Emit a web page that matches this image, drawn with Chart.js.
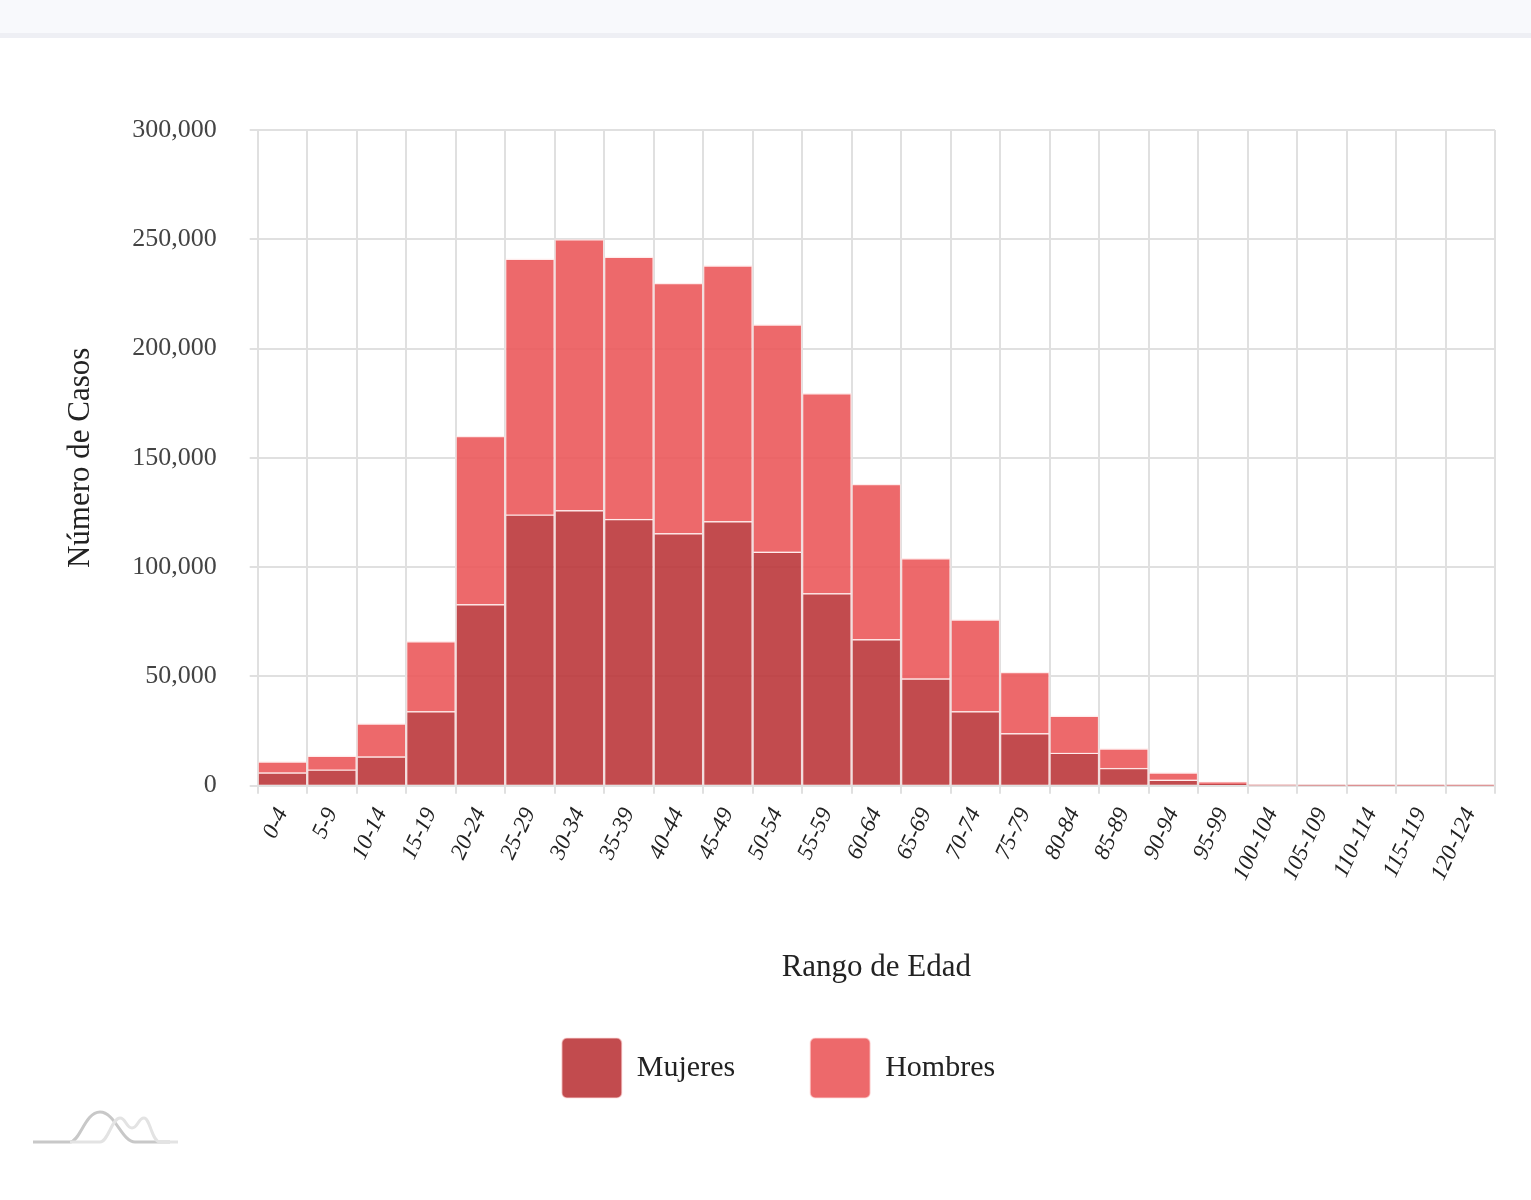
<!DOCTYPE html>
<html>
<head>
<meta charset="utf-8">
<script src="https://cdn.jsdelivr.net/npm/chart.js@4.4.1/dist/chart.umd.min.js"></script>
<style>
  body { margin: 0; background: #fff; width: 1531px; height: 1200px; overflow: hidden; position: relative; }
  #cabecera { position: absolute; left: 0; top: 0; width: 1531px; height: 33px; background: #f8f9fc; border-bottom: 5px solid #eeeff4; }
  #contenedor { position: absolute; left: 0; top: 38px; width: 1531px; height: 1140px; }
  #logo { position: absolute; left: 30px; top: 1100px; }
</style>
</head>
<body>
<div id="cabecera"></div>
<div id="contenedor"><canvas id="grafica"></canvas></div>
<svg id="logo" width="160" height="50" viewBox="0 0 160 50">
  <path d="M3 42 H40 C50 42 55 12 70 12 C85 12 92 42 105 42 H140" fill="none" stroke="#c8c8c8" stroke-width="3"/>
  <path d="M40 42 H70 C78 42 82 18 90 18 C96 18 96 28 102 28 C108 28 108 18 114 18 C120 18 122 42 130 42 H148" fill="none" stroke="#e3e3e3" stroke-width="3"/>
</svg>
<script>
document.addEventListener("DOMContentLoaded", function () {
    const rangos = ['0-4', '5-9', '10-14', '15-19', '20-24', '25-29', '30-34', '35-39', '40-44', '45-49',
        '50-54', '55-59', '60-64', '65-69', '70-74', '75-79', '80-84', '85-89', '90-94', '95-99',
        '100-104', '105-109', '110-114', '115-119', '120-124'];
    // valores (barras apiladas: mujeres abajo, hombres arriba)
    const mujeres = [6000, 7300, 13300, 34000, 83000, 124000, 126000, 122000, 115500, 121000,
        107000, 88000, 67000, 49000, 34000, 24000, 15000, 8000, 2700, 800,
        150, 40, 20, 10, 10];
    const hombres = [5000, 6400, 15100, 32000, 77000, 117000, 124000, 120000, 114500, 117000,
        104000, 91500, 71000, 55000, 42000, 28000, 17000, 9000, 3300, 1000,
        150, 40, 20, 10, 10];
    const ticksY = [0, 50000, 100000, 150000, 200000, 250000, 300000];

    const fuente = "'Liberation Serif', 'DejaVu Serif', serif";
    const ctx = document.getElementById('grafica').getContext('2d');

    new Chart(ctx, {
        type: 'bar',
        data: {
            labels: rangos,
            datasets: [{
                label: 'Mujeres',
                data: mujeres,
                backgroundColor: 'rgba(186, 50, 54, 0.88)',
                borderColor: 'rgba(255, 220, 220, 0.55)',
                borderWidth: 1.5,
                barPercentage: 1,
                categoryPercentage: 1
            },
            {
                label: 'Hombres',
                data: hombres,
                backgroundColor: 'rgba(234, 84, 87, 0.88)',
                borderColor: 'rgba(255, 220, 220, 0.55)',
                borderWidth: 1.5,
                barPercentage: 1,
                categoryPercentage: 1
            }]
        },
        options: {
            responsive: true,
            maintainAspectRatio: false,
            animation: false,
            layout: { padding: { left: 62, right: 36, top: 92, bottom: 70 } },
            plugins: {
                legend: {
                    position: 'bottom',
                    labels: {
                        boxWidth: 60,
                        boxHeight: 60,
                        useBorderRadius: true,
                        borderRadius: 5,
                        padding: 75,
                        color: '#222',
                        font: { family: fuente, size: 30 }
                    }
                },
                tooltip: { enabled: false }
            },
            scales: {
                x: {
                    stacked: true,
                    grid: { color: '#e0e0e0', lineWidth: 2 },
                    border: { color: '#e0e0e0', width: 2 },
                    ticks: {
                        minRotation: 65,
                        maxRotation: 65,
                        padding: 10,
                        color: '#222',
                        font: { family: fuente, size: 23, style: 'italic' }
                    },
                    title: {
                        display: true,
                        text: 'Rango de Edad',
                        color: '#222',
                        padding: { top: 54, bottom: -23 },
                        font: { family: fuente, size: 31 }
                    }
                },
                y: {
                    stacked: true,
                    min: 0,
                    max: 300000,
                    afterBuildTicks: function (escala) {
                        escala.ticks = ticksY.map(function (v) { return { value: v }; });
                    },
                    grid: { color: '#e0e0e0', lineWidth: 2 },
                    border: { color: '#e0e0e0', width: 2 },
                    ticks: {
                        padding: 33,
                        color: '#444',
                        font: { family: fuente, size: 26 }
                    },
                    title: {
                        display: true,
                        text: 'Número de Casos',
                        color: '#222',
                        padding: { top: 0, bottom: 0 },
                        font: { family: fuente, size: 31 }
                    }
                }
            }
        }
    });
});
</script>
</body>
</html>
